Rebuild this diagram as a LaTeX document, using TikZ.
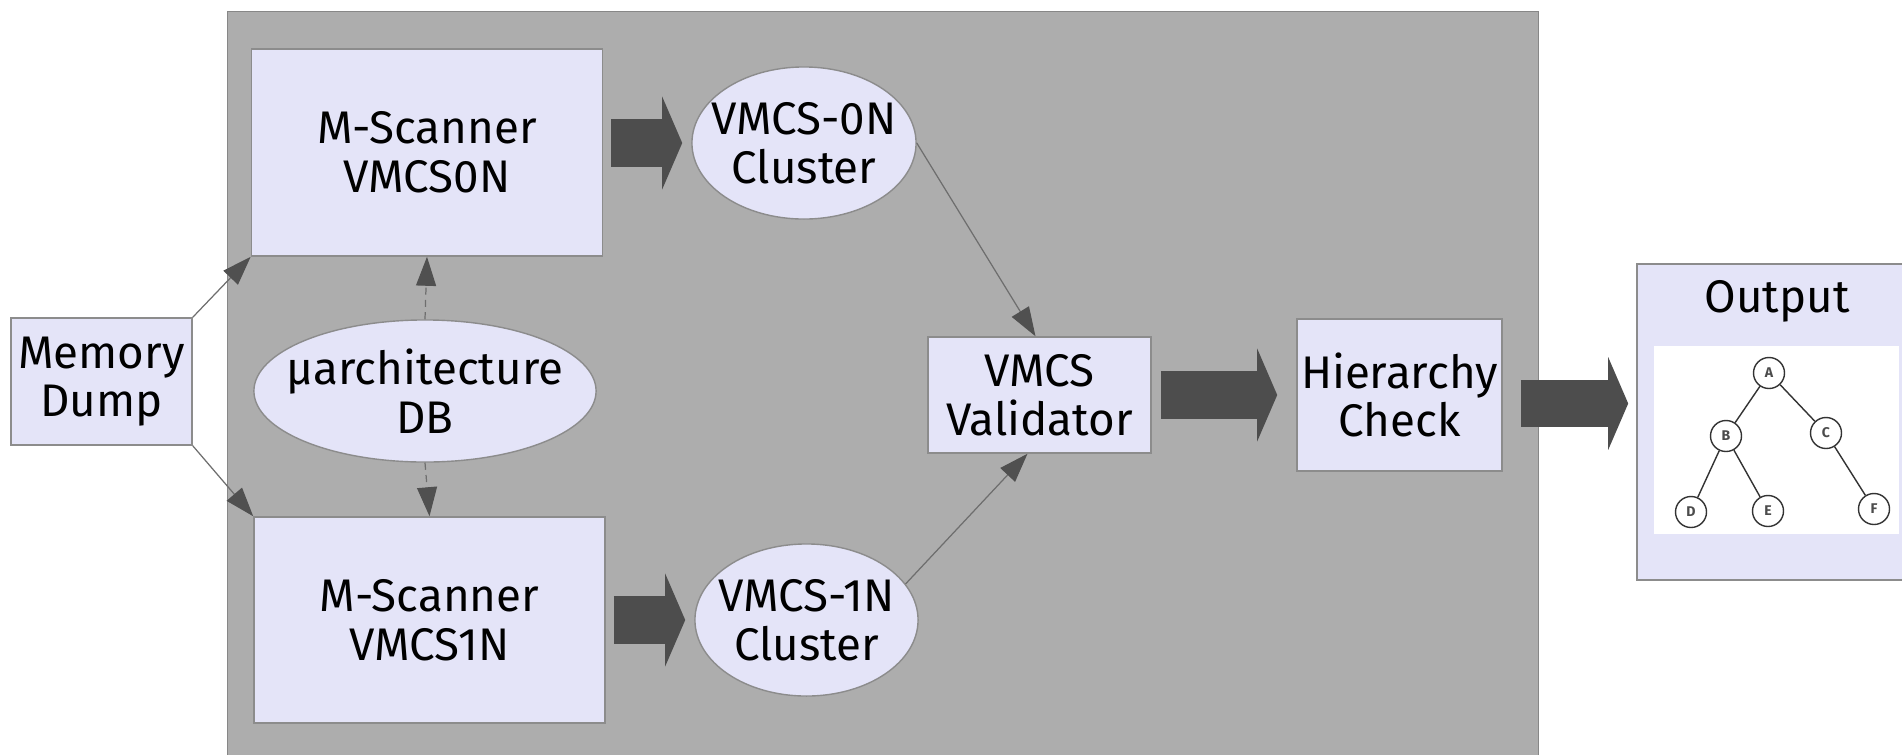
\documentclass[tikz,border=0pt]{standalone}
\usepackage{fontspec}
\setmainfont{Fira Sans}
\usetikzlibrary{shapes.geometric, arrows.meta}

\definecolor{boxfill}{RGB}{228,228,248}
\definecolor{boxline}{RGB}{140,140,140}
\definecolor{bggray}{RGB}{173,173,173}
\definecolor{bgline}{RGB}{135,135,135}
\definecolor{fatgray}{RGB}{77,77,77}
\definecolor{linegray}{RGB}{110,110,110}
\definecolor{tipgray}{RGB}{80,80,80}

\begin{document}
\begin{tikzpicture}[x=0.01cm, y=-0.01cm,
    font=\fontsize{13}{13.8}\selectfont,
    box/.style={draw=boxline, fill=boxfill, inner sep=0pt, align=center},
    ell/.style={ellipse, draw=boxline, fill=boxfill, inner sep=0pt},
    thin/.style={draw=linegray, line width=0.35pt, -{Triangle[length=0.29cm, width=0.2cm, color=tipgray]}},
    fat/.style={draw=fatgray, line width=0.47cm, -{Triangle[length=0.2cm, width=0.92cm]}},
    treenode/.style={circle, draw=black!80, fill=white, line width=0.4pt, inner sep=0pt,
                     minimum size=0.31cm, font=\fontsize{4}{4}\selectfont\bfseries, text=black!70}]

    \useasboundingbox (0,0) rectangle (1902,754);

    % gray frame
    \node [draw=bgline, fill=bggray, minimum width=13.1cm, minimum height=7.58cm, inner sep=0pt] (bg) at (883,391) {};

    \node [box, minimum width=1.81cm, minimum height=1.27cm] (mem) at (101.5,381.5) {Memory\\Dump};
    \node [box, minimum width=3.51cm, minimum height=2.07cm] (scan0) at (427,152.5) {M-Scanner\\VMCS0N};
    \node [box, minimum width=3.51cm, minimum height=2.06cm] (scan1) at (429.5,620) {M-Scanner\\VMCS1N};
    \node [ell, minimum width=3.42cm, minimum height=1.42cm,
           label={[align=center]center:{µarchitecture\\DB}}] (db) at (425,391) {};
    \node [ell, minimum width=2.24cm, minimum height=1.52cm,
           label={[align=center]center:{VMCS-0N\\Cluster}}] (clu0) at (804,143) {};
    \node [ell, minimum width=2.23cm, minimum height=1.52cm,
           label={[align=center]center:{VMCS-1N\\Cluster}}] (clu1) at (806.5,620) {};
    \node [box, minimum width=2.23cm, minimum height=1.16cm] (val) at (1039.5,395) {VMCS\\Validator};
    \node [box, minimum width=2.05cm, minimum height=1.52cm] (hier) at (1399.5,395) {Hierarchy\\Check};

    % output panel
    \node [box, minimum width=2.8cm, minimum height=3.16cm] (out) at (1777,422) {};
    \node (outtitle) at (1777,301) {Output};
    \node [fill=white, minimum width=2.45cm, minimum height=1.88cm, inner sep=0pt] (img) at (1776.5,440) {};
    \node [treenode] (tA) at (1769,373) {A};
    \node [treenode] (tB) at (1726,436) {B};
    \node [treenode] (tC) at (1826,433) {C};
    \node [treenode] (tD) at (1691,512) {D};
    \node [treenode] (tE) at (1768,511) {E};
    \node [treenode] (tF) at (1874,509) {F};
    \draw [black!80, line width=0.4pt]
        (tA) -- (tB)  (tA) -- (tC)  (tB) -- (tD)  (tB) -- (tE)  (tC) -- (tF);

    % thin connectors
    \draw [thin] (mem.north east) -- (scan0.south west);
    \draw [thin] (mem.south east) -- (scan1.north west);
    \draw [thin, dash pattern=on 2pt off 1.5pt] (db.north) -- (scan0.south);
    \draw [thin, dash pattern=on 2pt off 1.5pt] (db.south) -- (scan1.north);
    \draw [thin] (clu0.east) -- ([xshift=-0.04cm]val.north);
    \draw [thin] (clu1.20) -- ([xshift=-0.12cm]val.south);

    % fat arrows
    \draw [fat, shorten <=0.08cm, shorten >=0.09cm] (scan0.east |- clu0.west) -- (clu0.west);
    \draw [fat, shorten <=0.08cm, shorten >=0.09cm] (scan1.east |- clu1.west) -- (clu1.west);
    \draw [fat, shorten <=0.09cm, shorten >=0.19cm] (val.east) -- (val.east -| hier.west);
    \draw [fat, shorten <=0.18cm, shorten >=0.08cm] ([yshift=-0.085cm]hier.east) -- ([yshift=-0.085cm]hier.east -| out.west);
\end{tikzpicture}
\end{document}
